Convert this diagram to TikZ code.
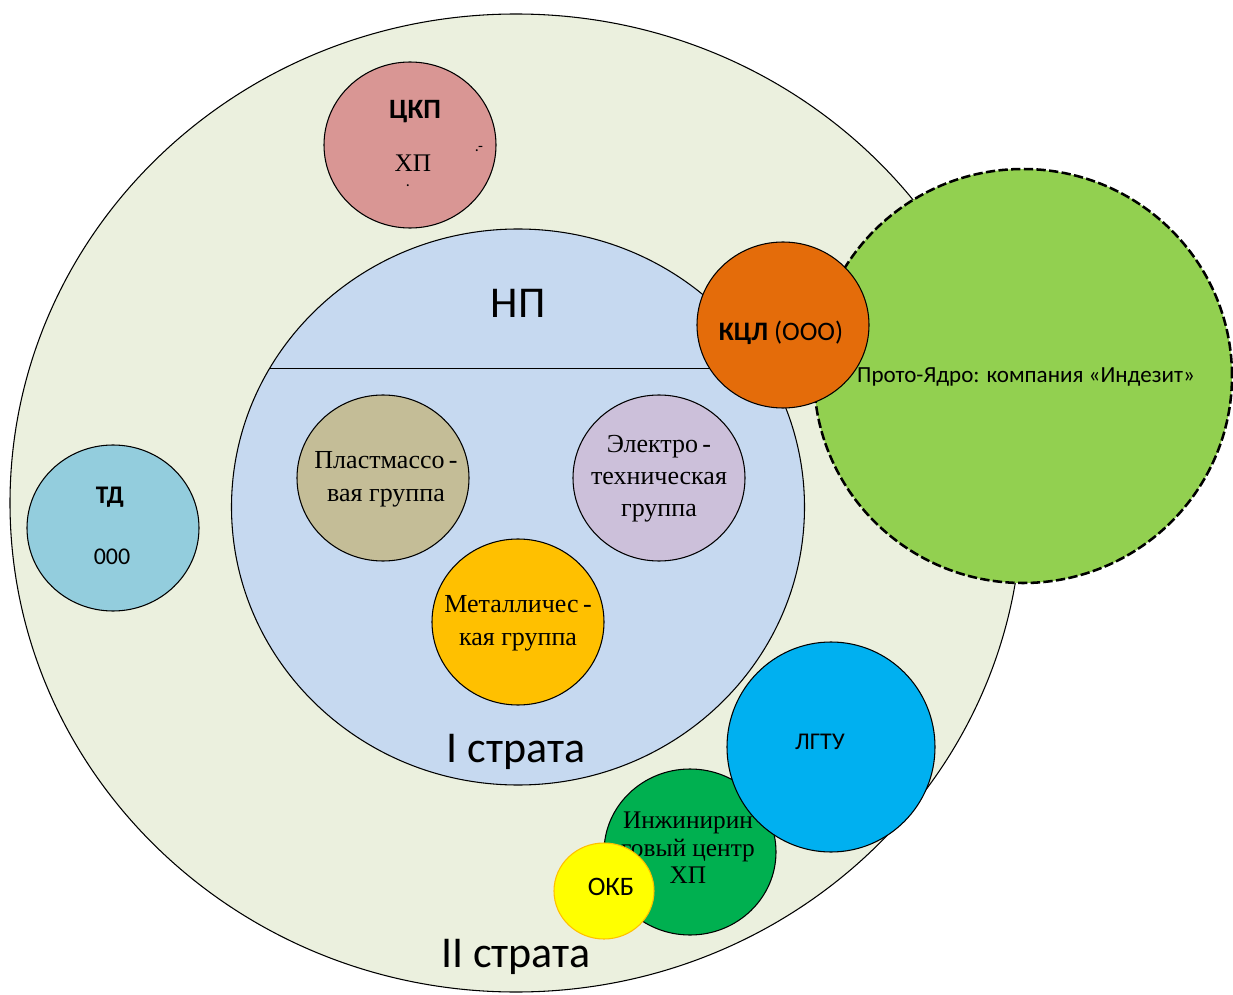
\documentclass[tikz,border=0pt]{standalone}
\usepackage{fontspec}
\setmainfont{Liberation Serif}
\setsansfont{Carlito}
\usetikzlibrary{shapes.geometric}
\definecolor{strataII}{RGB}{235,240,222}
\definecolor{strataI}{RGB}{198,217,240}
\definecolor{ckp}{RGB}{217,150,148}
\definecolor{kcl}{RGB}{228,108,10}
\definecolor{core}{RGB}{146,208,80}
\definecolor{td}{RGB}{147,205,221}
\definecolor{plast}{RGB}{196,189,151}
\definecolor{elektro}{RGB}{204,192,218}
\definecolor{metal}{RGB}{255,192,0}
\definecolor{lgtu}{RGB}{0,176,240}
\definecolor{inzh}{RGB}{0,176,80}
\definecolor{okb}{RGB}{255,255,0}
\newcommand{\sz}[2]{\fontsize{#1}{#2}\selectfont}

\begin{document}
\begin{tikzpicture}[x=0.75pt,y=-0.75pt,
	krug/.style 2 args={ellipse,draw=black,line width=0.8pt,inner sep=0pt,
		minimum width=#1*1.5pt,minimum height=#2*1.5pt},
	lab/.style={font=\sffamily,inner sep=0pt},
	ser/.style={font=\rmfamily,align=center,inner sep=0pt}]
	\useasboundingbox (0,0) rectangle (1233,995);
	
	% strata
	\node[krug={506}{489},fill=strataII] (str2) at (516,503) {};
	\node[krug={209}{207},fill=core,line width=1.9pt,dash pattern=on 7pt off 2.5pt] (core) at (1023,376) {};
	\node[krug={286.5}{278},fill=strataI] (str1) at (518,507) {};
	\draw[line width=0.8pt] (str1.151) -- (str1.29);
	
	% groups
	\node[krug={86}{83},fill=ckp] (ckp) at (410,145) {};
	\node[krug={86}{83},fill=td] (td) at (113,528) {};
	\node[krug={86}{83},fill=plast] (plast) at (383,478) {};
	\node[krug={86}{83},fill=elektro] (elektro) at (659,478) {};
	\node[krug={86}{83},fill=metal] (metal) at (518,622) {};
	\node[krug={86}{83},fill=inzh] (inzh) at (690,852) {};
	\node[ser,font=\rmfamily\sz{19}{20.5}] (inzhT) at (688,848) {Инжинирин\\говый центр\\ХП};
	\node[krug={104}{105},fill=lgtu] (lgtu) at (831,747) {};
	\node[krug={50}{48},fill=okb,draw=metal] (okb) at (604,891) {};
	\node[krug={86}{83},fill=kcl] (kcl) at (783,325) {};
	
	% texts
	\node[lab,font=\sffamily\sz{33}{33}] (npT) at (518,303) {НП};
	\node[lab,font=\sffamily\sz{33}{33}] (str1T) at (516,752) {I страта};
	\node[lab,font=\sffamily\sz{33}{33}] (str2T) at (516,957) {II страта};
	\node[lab,font=\sffamily\bfseries\sz{21}{21}] (ckpT) at (415,112) {ЦКП};
	\node[ser,font=\rmfamily\sz{19}{19}] (ckpX) at (413,163) {ХП};
	\node[lab,font=\sffamily\sz{12}{12}] (dotA) at (408,186) {.};
	\node[lab,font=\sffamily\sz{12}{12}] (dotB) at (479,149) {.-};
	\node[lab,font=\sffamily\sz{20}{20}] (kclT) at (781,333) {\textbf{КЦЛ} (ООО)};
	\node[lab,font=\sffamily\sz{17.3}{17.3}] (coreT) at (1026,377) {Прото-Ядро: компания «Индезит»};
	\node[lab,font=\sffamily\bfseries\sz{19}{19}] (tdT) at (110,497) {ТД};
	\node[lab,font=\sffamily\sz{18}{18}] (tdN) at (112,557) {000};
	\node[ser,font=\rmfamily\sz{19.5}{24.5}] (plastT) at (386,479) {Пластмассо\,-\\вая группа};
	\node[ser,font=\rmfamily\sz{19.5}{24}] (elektroT) at (659,479) {Электро\,-\\техническая\\группа};
	\node[ser,font=\rmfamily\sz{19.5}{24.5}] (metalT) at (518,623) {Металличес\,-\\кая группа};
	\node[lab,font=\sffamily\sz{18}{18}] (lgtuT) at (820,742) {ЛГТУ};
	\node[lab,font=\sffamily\sz{20}{20}] (okbT) at (611,887) {ОКБ};
\end{tikzpicture}
\end{document}
